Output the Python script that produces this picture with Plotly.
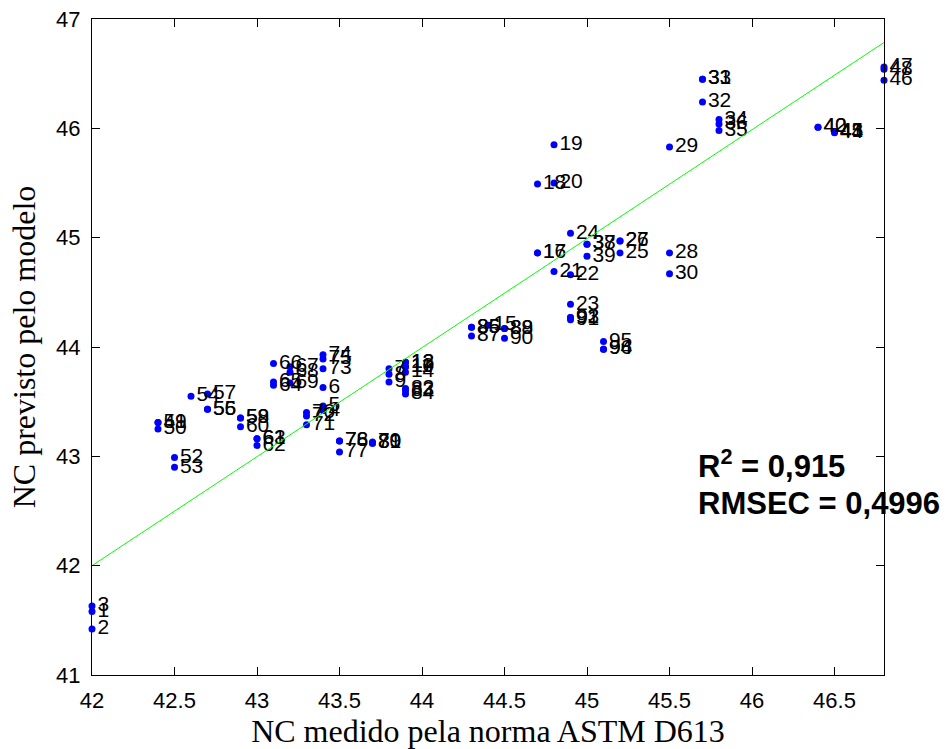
import plotly.graph_objects as go

# ---- data ----
sample_ids = [
    1, 2, 3, 4, 5, 6, 7, 8, 9, 10, 11, 12, 13, 14, 15, 16, 17, 18, 19, 20,
    21, 22, 23, 24, 25, 26, 27, 28, 29, 30, 31, 32, 33, 34, 35, 36, 37, 38, 39, 40,
    41, 42, 43, 44, 45, 46, 47, 48, 49, 50, 51, 52, 53, 54, 55, 56, 57, 58, 59, 60,
    61, 62, 63, 64, 65, 66, 67, 68, 69, 70, 71, 72, 73, 74, 75, 76, 77, 78, 79, 80,
    81, 82, 83, 84, 85, 86, 87, 88, 89, 90, 91, 92, 93, 94, 95, 96,
]
nc_measured = [
    42.0, 42.0, 42.0, 43.4, 43.4, 43.4, 43.8, 43.8, 43.8, 43.9, 43.9, 43.9, 43.9, 43.9, 44.4, 44.7, 44.7, 44.7, 44.8, 44.8,
    44.8, 44.9, 44.9, 44.9, 45.2, 45.2, 45.2, 45.5, 45.5, 45.5, 45.7, 45.7, 45.7, 45.8, 45.8, 45.8, 45.0, 45.0, 45.0, 46.4,
    46.5, 46.4, 46.5, 46.5, 46.5, 46.8, 46.8, 46.8, 42.4, 42.4, 42.4, 42.5, 42.5, 42.6, 42.7, 42.7, 42.7, 42.9, 42.9, 42.9,
    43.0, 43.0, 43.0, 43.1, 43.1, 43.1, 43.2, 43.2, 43.2, 43.3, 43.3, 43.3, 43.4, 43.4, 43.4, 43.5, 43.5, 43.5, 43.7, 43.7,
    43.7, 43.9, 43.9, 43.9, 44.3, 44.3, 44.3, 44.5, 44.5, 44.5, 44.9, 44.9, 44.9, 45.1, 45.1, 45.1,
]
nc_predicted = [
    41.58, 41.42, 41.63, 43.42, 43.46, 43.63, 43.80, 43.75, 43.68, 43.82, 43.82, 43.86, 43.86, 43.77, 44.20, 44.86, 44.86, 45.49, 45.85, 45.50,
    44.69, 44.66, 44.39, 45.04, 44.86, 44.97, 44.97, 44.86, 45.83, 44.67, 46.45, 46.24, 46.45, 46.08, 45.98, 46.04, 44.94, 44.94, 44.83, 46.01,
    45.97, 46.01, 45.97, 45.96, 45.97, 46.44, 46.56, 46.54, 43.31, 43.25, 43.31, 42.99, 42.90, 43.55, 43.43, 43.43, 43.57, 43.35, 43.35, 43.27,
    43.16, 43.10, 43.16, 43.65, 43.68, 43.85, 43.82, 43.77, 43.67, 43.40, 43.29, 43.37, 43.80, 43.93, 43.89, 43.14, 43.04, 43.14, 43.13, 43.12,
    43.12, 43.62, 43.60, 43.57, 44.18, 44.18, 44.10, 44.17, 44.17, 44.08, 44.25, 44.27, 44.27, 43.98, 44.05, 43.98,
]
fit_x = [42.0, 46.8]
fit_y = [42.0, 46.785]

x_ticks = [42, 42.5, 43, 43.5, 44, 44.5, 45, 45.5, 46, 46.5]
y_ticks = [41, 42, 43, 44, 45, 46, 47]

x_title = "NC medido pela norma ASTM D613"
y_title = "NC previsto pelo modelo"
stat_lines = ["<b>R<sup>2</sup> = 0,915</b>", "<b>RMSEC = 0,4996</b>"]

# ---- figure ----
fig = go.Figure()

fig.add_trace(go.Scatter(
    x=nc_measured, y=nc_predicted,
    mode="markers+text",
    text=[str(i) for i in sample_ids],
    textposition="middle right",
    textfont=dict(family="Liberation Sans, Arial", size=21, color="black"),
    marker=dict(color="#0000FF", size=7),
    cliponaxis=False,
    showlegend=False,
    hoverinfo="x+y+text",
))

fig.add_trace(go.Scatter(
    x=fit_x, y=fit_y, mode="lines",
    line=dict(color="#00FF00", width=1),
    showlegend=False, hoverinfo="skip",
))

axis_common = dict(
    showline=True, linecolor="black", linewidth=1, mirror="ticks",
    ticks="inside", ticklen=8, tickwidth=1, tickcolor="black",
    showgrid=False, zeroline=False, automargin=False,
    tickfont=dict(family="Liberation Sans, Arial", size=22, color="black"),
)

fig.update_xaxes(
    range=[42, 46.8], tickvals=x_ticks, ticktext=[f"{v:g}" for v in x_ticks],
    ticklabelstandoff=6,
    title=dict(text=x_title, font=dict(family="Liberation Serif, Times New Roman", size=32, color="black"), standoff=8),
    **axis_common,
)
fig.update_yaxes(
    range=[41, 47], tickvals=y_ticks,
    ticklabelstandoff=6,
    title=dict(text=y_title, font=dict(family="Liberation Serif, Times New Roman", size=32, color="black"), standoff=10),
    **axis_common,
)

for txt, yy in zip(stat_lines, [0.3224, 0.2612]):
    fig.add_annotation(
        text=txt, xref="paper", yref="paper", x=0.762, y=yy,
        xanchor="left", yanchor="middle", showarrow=False,
        font=dict(family="Liberation Sans, Arial", size=31, color="black"),
    )

fig.update_layout(
    width=950, height=749,
    margin=dict(l=92, r=66, t=19, b=74, autoexpand=False),
    paper_bgcolor="white", plot_bgcolor="white",
    font=dict(family="Liberation Sans, Arial", color="black"),
)

fig.write_html("out.html")
